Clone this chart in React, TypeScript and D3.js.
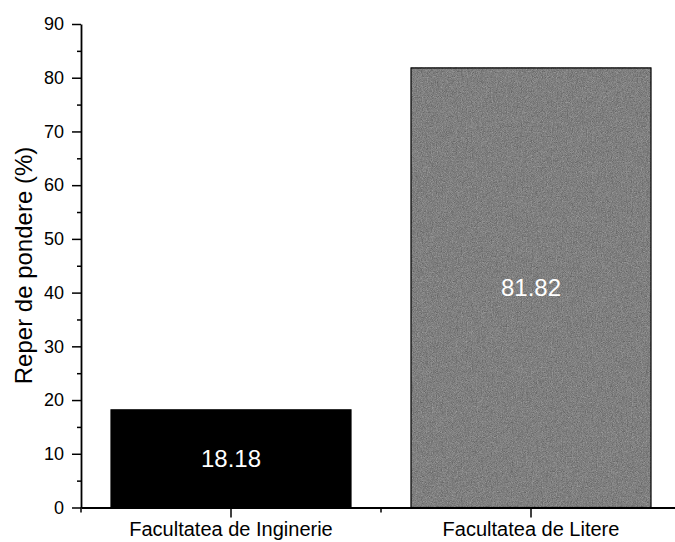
import React, { useEffect, useRef } from "react";
import * as d3 from "d3";

const categories = ["Facultatea de Inginerie", "Facultatea de Litere"];
const values = [18.18, 81.82];
const barColors = ["#000000", "#7e7e7e"];
const majorTicks = [0, 10, 20, 30, 40, 50, 60, 70, 80, 90];
const minorTicks = [5, 15, 25, 35, 45, 55, 65, 75, 85];
const yLabel = "Reper de pondere (%)";

const W = 675;
const H = 542;
const FONT = "'Liberation Sans', Arial, Helvetica, sans-serif";

export default function App() {
  const ref = useRef<SVGSVGElement | null>(null);

  useEffect(() => {
    const svg = d3.select(ref.current);
    svg.selectAll("*").remove();

    // grain filter to mimic the scanned texture of the grey bar
    const defs = svg.append("defs");
    const f = defs
      .append("filter")
      .attr("id", "grain")
      .attr("x", 0)
      .attr("y", 0)
      .attr("width", 1)
      .attr("height", 1)
      .attr("color-interpolation-filters", "sRGB");
    f.append("feTurbulence")
      .attr("type", "fractalNoise")
      .attr("baseFrequency", 1.2)
      .attr("numOctaves", 1)
      .attr("seed", 3)
      .attr("result", "noise");
    f.append("feColorMatrix")
      .attr("in", "noise")
      .attr("type", "matrix")
      .attr(
        "values",
        "0.6 0.6 0 0 -0.1  0.6 0.6 0 0 -0.1  0.6 0.6 0 0 -0.1  0 0 0 0 1"
      )
      .attr("result", "gray");
    f.append("feComposite")
      .attr("in", "gray")
      .attr("in2", "SourceGraphic")
      .attr("operator", "arithmetic")
      .attr("k1", 0)
      .attr("k2", 0.4)
      .attr("k3", 0.6)
      .attr("k4", -0.03);

    const y = d3.scaleLinear().domain([0, 90]).range([507.5, 24]);
    const x = d3
      .scaleBand<string>()
      .domain(categories)
      .range([81, 681])
      .paddingInner(0.2)
      .paddingOuter(0.1);

    // bars
    const g = svg.append("g");
    g.selectAll("rect.bar")
      .data(values)
      .join("rect")
      .attr("class", "bar")
      .attr("x", (_, i) => x(categories[i])!)
      .attr("width", x.bandwidth())
      .attr("y", (d) => y(d))
      .attr("height", (d) => y(0) - y(d))
      .attr("fill", (_, i) => barColors[i])
      .attr("filter", (_, i) => (i === 1 ? "url(#grain)" : null));
    g.selectAll("rect.outline")
      .data(values)
      .join("rect")
      .attr("class", "outline")
      .attr("x", (_, i) => x(categories[i])!)
      .attr("width", x.bandwidth())
      .attr("y", (d) => y(d))
      .attr("height", (d) => y(0) - y(d))
      .attr("fill", "none")
      .attr("stroke", "#000")
      .attr("stroke-width", 1.2);

    g.selectAll("text.val")
      .data(values)
      .join("text")
      .attr("class", "val")
      .attr("x", (_, i) => x(categories[i])! + x.bandwidth() / 2)
      .attr("y", (d) => y(d / 2))
      .attr("text-anchor", "middle")
      .attr("dominant-baseline", "central")
      .attr("fill", "#fff")
      .style("font-family", FONT)
      .style("font-size", "24px")
      .text((d) => d.toFixed(2));

    // y axis
    const yAxis = svg.append("g").attr("transform", "translate(81,0)");
    yAxis.call(
      d3
        .axisLeft(y)
        .tickValues(majorTicks)
        .tickSize(9)
        .tickSizeOuter(0)
        .tickPadding(8)
        .tickFormat(d3.format("d"))
    );
    yAxis
      .selectAll("text")
      .style("font-family", FONT)
      .style("font-size", "18px")
      .attr("fill", "#000");
    const yMinor = svg.append("g").attr("transform", "translate(81,0)");
    yMinor.call(
      d3.axisLeft(y).tickValues(minorTicks).tickSize(4).tickSizeOuter(0).tickFormat(() => "")
    );
    yMinor.select(".domain").remove();

    // x axis
    const xAxis = svg.append("g").attr("transform", `translate(0,${y(0)})`);
    xAxis.call(d3.axisBottom(x).tickSize(10).tickSizeOuter(0).tickPadding(9));
    xAxis
      .selectAll("text")
      .attr("y", 28.5)
      .attr("dy", null)
      .style("font-family", FONT)
      .style("font-size", "20px")
      .attr("fill", "#000");
    const xMinorVals = [
      x.range()[0],
      ...categories.slice(0, -1).map((c) => x(c)! + x.bandwidth() + (x.step() - x.bandwidth()) / 2),
    ];
    svg
      .append("g")
      .selectAll("line")
      .data(xMinorVals)
      .join("line")
      .attr("x1", (d) => d)
      .attr("x2", (d) => d)
      .attr("y1", y(0))
      .attr("y2", y(0) + 5)
      .attr("stroke", "#000")
      .attr("stroke-width", 1.5);

    svg.selectAll(".domain").attr("stroke-width", 1.8).attr("stroke", "#000");
    svg.selectAll(".tick line").attr("stroke-width", 1.5).attr("stroke", "#000");

    // y label
    svg
      .append("text")
      .attr("transform", `translate(32,${(143 + 388) / 2}) rotate(-90)`)
      .attr("text-anchor", "middle")
      .style("font-family", FONT)
      .style("font-size", "24px")
      .attr("fill", "#000")
      .text(yLabel);
  }, []);

  return (
    <svg
      ref={ref}
      width={W}
      height={H}
      style={{ position: "absolute", left: 0, top: 0, background: "#fff" }}
    />
  );
}
